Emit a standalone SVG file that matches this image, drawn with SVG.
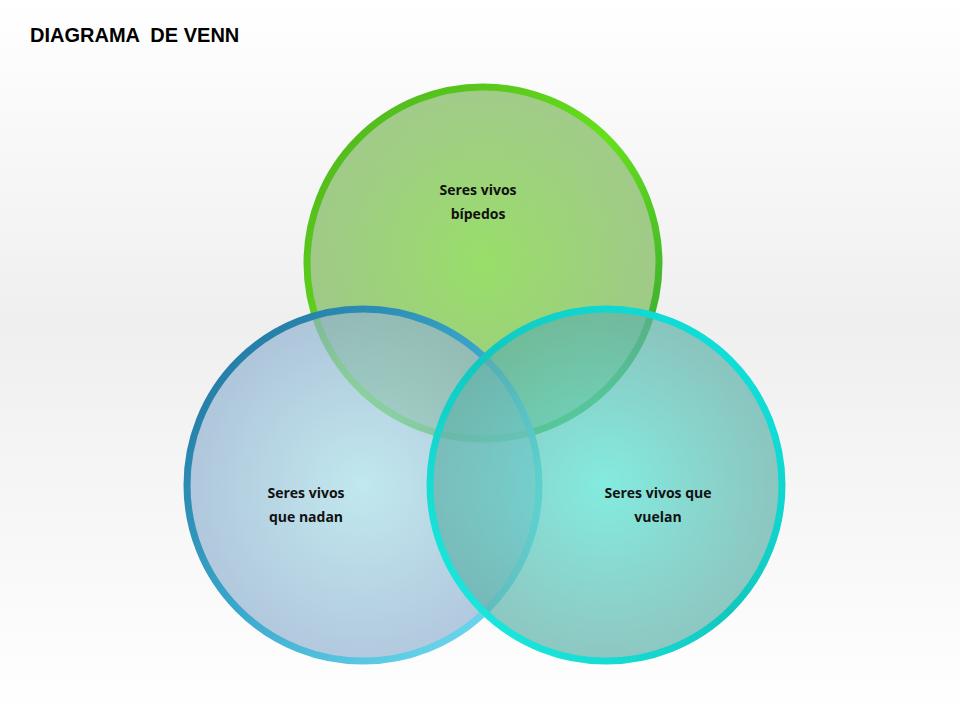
<svg xmlns="http://www.w3.org/2000/svg" width="960" height="720" viewBox="0 0 960 720">
<defs>
<linearGradient id="bg" x1="0" y1="0" x2="0" y2="1">
<stop offset="0" stop-color="#ffffff"/><stop offset="0.45" stop-color="#efefef"/><stop offset="1" stop-color="#ffffff"/>
</linearGradient>
<radialGradient id="gf"><stop offset="0" stop-color="#8fdc5a" stop-opacity="0.9"/><stop offset="1" stop-color="#8cbf6e" stop-opacity="0.8"/></radialGradient>
<radialGradient id="bf"><stop offset="0" stop-color="#a8e2ea" stop-opacity="0.8"/><stop offset="1" stop-color="#8fb0d0" stop-opacity="0.8"/></radialGradient>
<radialGradient id="tf"><stop offset="0" stop-color="#5ee8d8" stop-opacity="0.75"/><stop offset="1" stop-color="#5fb0a8" stop-opacity="0.7"/></radialGradient>
<linearGradient id="gs" x1="0" y1="0" x2="1" y2="1"><stop offset="0" stop-color="#4caf1e"/><stop offset="0.5" stop-color="#66e01a"/><stop offset="1" stop-color="#2a9a3a"/></linearGradient>
<linearGradient id="bs" x1="0" y1="0" x2="1" y2="1"><stop offset="0" stop-color="#1e6f9a"/><stop offset="0.5" stop-color="#3aa8cc"/><stop offset="1" stop-color="#7ae6f8"/></linearGradient>
<linearGradient id="ts" x1="0" y1="1" x2="1" y2="0"><stop offset="0" stop-color="#1ef0e6"/><stop offset="0.5" stop-color="#10c8c0"/><stop offset="1" stop-color="#10e6e0"/></linearGradient>
<style>.lbl{font-family:"Open Sans","Liberation Sans",sans-serif;font-weight:bold;font-size:14px;fill:#111;text-anchor:middle}</style>
</defs>
<rect width="960" height="720" fill="url(#bg)"/>
<text x="30" y="42" font-family="Liberation Sans,Arial,sans-serif" font-weight="bold" font-size="20" fill="#000" xml:space="preserve">DIAGRAMA  DE VENN</text>
<g id="green"><circle cx="483" cy="263" r="176" fill="url(#gf)" stroke="url(#gs)" stroke-width="7"/></g>
<g id="blue"><circle cx="363" cy="485" r="176" fill="url(#bf)" stroke="url(#bs)" stroke-width="7" fill-opacity="0.85"/></g>
<g id="teal"><circle cx="606" cy="485" r="176" fill="url(#tf)" stroke="url(#ts)" stroke-width="7"/></g>
<g id="labels">
<text class="lbl" x="478" y="195">Seres vivos</text><text class="lbl" x="478" y="219">bípedos</text>
<text class="lbl" x="306" y="498">Seres vivos</text><text class="lbl" x="306" y="522">que nadan</text>
<text class="lbl" x="658" y="498">Seres vivos que</text><text class="lbl" x="658" y="522">vuelan</text>
</g>
<g id="connectors"/>
</svg>
